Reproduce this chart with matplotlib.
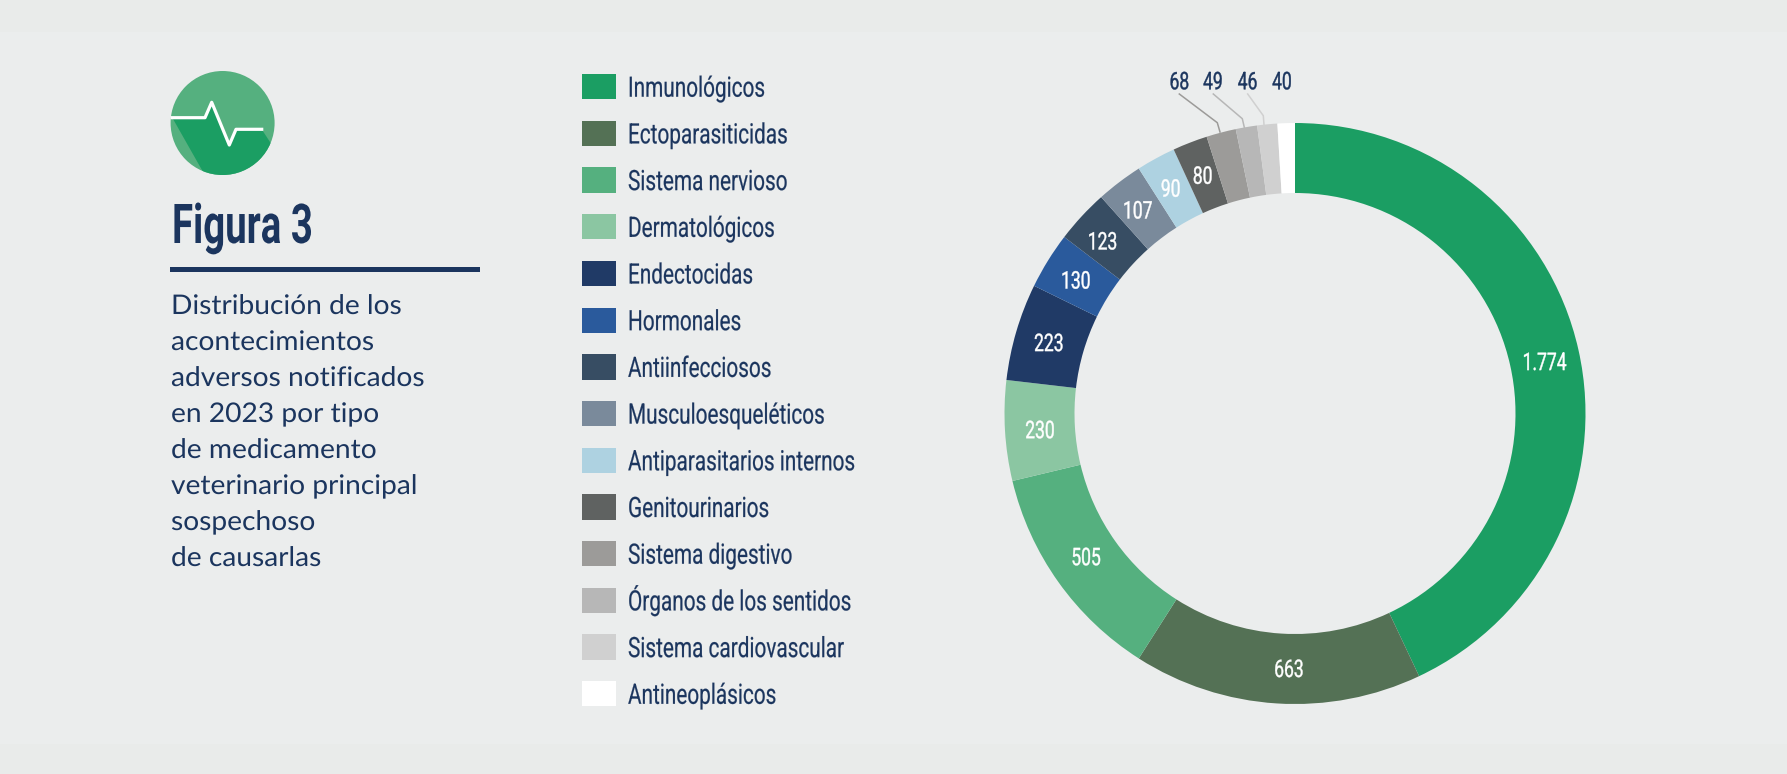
import numpy as np
import matplotlib
matplotlib.use("Agg")
import matplotlib.pyplot as plt
from matplotlib.patches import Circle, Polygon, Rectangle
from matplotlib.patheffects import AbstractPathEffect
from matplotlib.transforms import Affine2D

W, H = 1787, 774

categories = ["Inmunológicos", "Ectoparasiticidas", "Sistema nervioso", "Dermatológicos",
              "Endectocidas", "Hormonales", "Antiinfecciosos", "Musculoesqueléticos",
              "Antiparasitarios internos", "Genitourinarios", "Sistema digestivo",
              "Órganos de los sentidos", "Sistema cardiovascular", "Antineoplásicos"]
values = [1774, 663, 505, 230, 223, 130, 123, 107, 90, 80, 68, 49, 46, 40]
value_labels = ["1.774", "663", "505", "230", "223", "130", "123", "107", "90", "80", "68", "49", "46", "40"]
colors = ["#1b9e63", "#547155", "#55b07f", "#8bc6a2", "#203a66", "#2a5a9c", "#374d63", "#7a8a9b",
          "#aed2e1", "#5f6261", "#9c9b99", "#b7b7b7", "#d0d0d0", "#ffffff"]
caption = ["Distribución de los", "acontecimientos", "adversos notificados", "en 2023 por tipo",
           "de medicamento", "veterinario principal", "sospechoso", "de causarlas"]
# hand placed labels in the original sit a bit off the ring centre (pixels)
label_shift_x = [0, 10, -1, 0, -1, -2, -5, -3, -2, 0]
label_shift_y = [6, 2, -3, 3, 3, 3, 3, 2, 1, 2]

NAVY = "#1b355e"


class Squeeze(AbstractPathEffect):
    """Narrow the glyphs horizontally, no condensed font is installed."""

    def __init__(self, sx, center=False, stroke=0.0):
        super().__init__()
        self.sx = sx
        self.center = center
        self.stroke = stroke

    def draw_path(self, renderer, gc, tpath, affine, rgbFace=None):
        pivot = 0
        if self.center and len(tpath.vertices):
            ext = tpath.get_extents()
            pivot = (ext.x0 + ext.x1) / 2
        squeeze = Affine2D().translate(-pivot, 0).scale(self.sx, 1).translate(pivot, 0)
        gc0 = renderer.new_gc()
        gc0.copy_properties(gc)
        if self.stroke:
            gc0.set_linewidth(self.stroke)
            gc0.set_foreground(rgbFace)
        renderer.draw_path(gc0, tpath, squeeze + affine, rgbFace)
        gc0.restore()


fig = plt.figure(figsize=(W / 100, H / 100), dpi=100, facecolor="#e9ebea")
bg = fig.add_axes([0, 0, 1, 1])
bg.set_xlim(0, W)
bg.set_ylim(H, 0)
bg.axis("off")
bg.add_patch(Rectangle((0, 32), W, 712, color="#ebeded", lw=0, zorder=0))

# icon
bg.add_patch(Circle((222.6, 123), 52, color="#55b07f", lw=0, zorder=1))
clip = Circle((222.6, 123), 52, transform=bg.transData)
line_x = [172.3, 205, 211.7, 229.3, 236, 261.7]
line_y = [117.7, 117.7, 102.3, 145, 129.3, 129.3]
shadow = Polygon(list(zip(line_x, line_y)) + [(285, 165), (260, 200), (215, 193)],
                 color="#1b9e63", lw=0, zorder=2)
bg.add_patch(shadow)
shadow.set_clip_path(clip)
bg.plot(line_x, line_y, color="white", lw=2.3, zorder=3, solid_joinstyle="round")

bg.text(172, 243, "Figura 3", color=NAVY, fontsize=39.5, fontweight="bold", family="Roboto",
        va="baseline", path_effects=[Squeeze(0.70)])
bg.add_patch(Rectangle((170, 267), 310, 5, color=NAVY, lw=0, zorder=2))
for i, line in enumerate(caption):
    bg.text(171, 314 + i * 36, line, color=NAVY, fontsize=19.5, family="Lato", va="baseline",
            path_effects=[Squeeze(1.04)])

# legend
for i, (name, col) in enumerate(zip(categories, colors)):
    y = 74 + i * 46.7
    bg.add_patch(Rectangle((581.7, y), 34.6, 25.3, color=col, lw=0, zorder=2))
    bg.text(628, y + 22.7, name, color=NAVY, fontsize=20.2, family="Roboto", va="baseline",
            path_effects=[Squeeze(0.74, stroke=0.15)])

# donut
R, r, cx, cy = 290.5, 220.5, 1295, 413.5
ax = fig.add_axes([(cx - R) / W, 1 - (cy + R) / H, 2 * R / W, 2 * R / H])
wedges, _ = ax.pie(values, colors=colors, startangle=90, counterclock=False, radius=1,
                   wedgeprops=dict(width=(R - r) / R, linewidth=0))
ax.set_xlim(-1, 1)
ax.set_ylim(-1, 1)
ax.set_aspect("equal")
ax.axis("off")
ax.patch.set_alpha(0)

mid_r = (R + r) / 2
for i, w in enumerate(wedges[:10]):
    a = np.deg2rad((w.theta1 + w.theta2) / 2)
    ax.text((mid_r * np.cos(a) + label_shift_x[i]) / R, (mid_r * np.sin(a) - label_shift_y[i]) / R,
            value_labels[i], color="white", fontsize=17.5, family="Roboto", ha="center",
            va="center", zorder=6, path_effects=[Squeeze(0.72, center=True, stroke=0.3)])

# outer labels with leader lines
label_x = [1179.3, 1213, 1247.6, 1282]
for i, x in zip(range(10, 14), label_x):
    bg.text(x, 89.3, value_labels[i], color=NAVY, fontsize=17.5, family="Roboto", ha="center",
            va="baseline", zorder=5, path_effects=[Squeeze(0.72, center=True, stroke=0.3)])
leader_col = ["#9c9b99", "#b7b7b7", "#d0d0d0"]
leader_x = [[1179.3, 1217.3, 1220], [1213.3, 1242.3, 1244.3], [1247.7, 1263.3, 1264]]
leader_y = [[94, 122.7, 132], [94, 118.7, 127.3], [94, 115.7, 124.7]]
for xs, ys, c in zip(leader_x, leader_y, leader_col):
    bg.plot(xs, ys, color=c, lw=1.1, zorder=5)

fig.savefig("out.png", dpi=100, facecolor=fig.get_facecolor())
